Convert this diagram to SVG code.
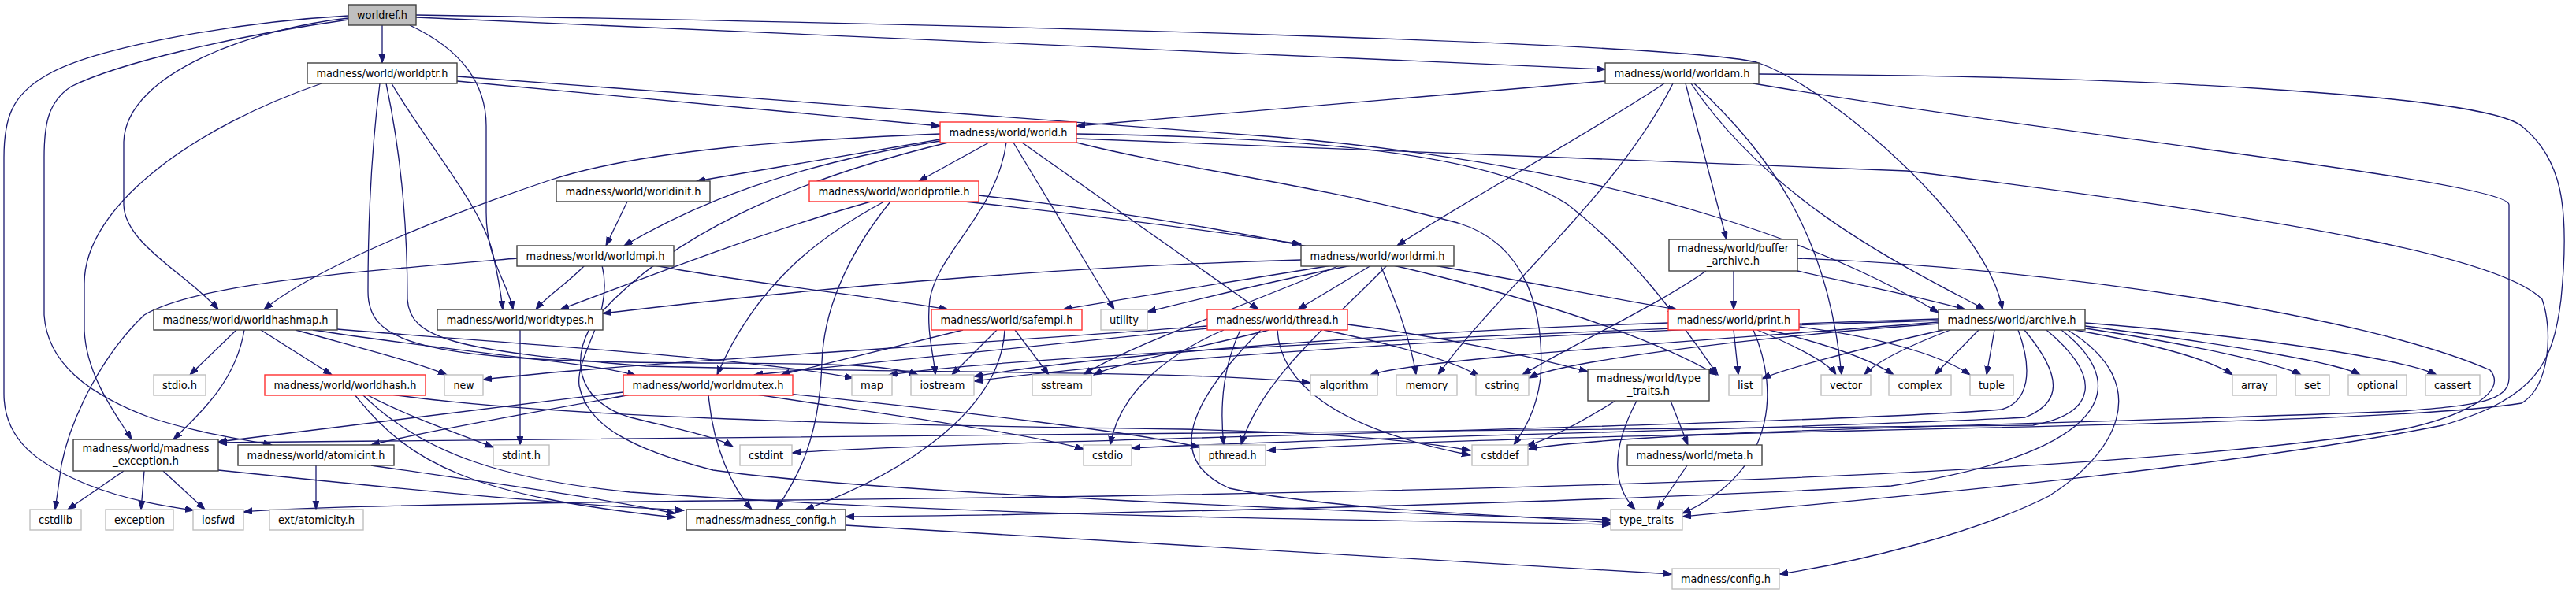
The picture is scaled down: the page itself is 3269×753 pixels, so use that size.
<svg xmlns="http://www.w3.org/2000/svg" width="3269" height="753" viewBox="0 0 3269 753">
<style>
.n rect{fill:#fff;stroke:#404040;stroke-width:1.4}
.n.red rect{stroke:#ff3030}
.n.ext rect{stroke:#bfbfbf}
.n.root rect{fill:#bfbfbf;stroke:#404040}
.n text{font-family:"DejaVu Sans Condensed","DejaVu Sans",sans-serif;font-size:14px;fill:#000;text-anchor:middle}
#edges path{fill:none;stroke:#191970;stroke-width:1.3;marker-end:url(#a)}
</style>
<defs>
<marker id="a" markerUnits="userSpaceOnUse" markerWidth="12" markerHeight="9" refX="11" refY="4" orient="auto"><path d="M0,0 L11,4 L0,8 z" fill="#191970" stroke="#191970" stroke-width="1"/></marker>
</defs>
<rect width="3269" height="753" fill="#fff"/>
<g id="edges">
<path d="M485,32 L485,80"/>
<path d="M528,22 L2037,88"/>
<path d="M528,19 C1300,32 2150,55 2232,80 C2330,115 2525,290 2541,393"/>
<path d="M442,23 C330,35 160,90 157,180 L157,260 C158,310 240,350 277,393"/>
<path d="M442,25 C300,45 150,80 90,110 C60,130 56,160 56,200 L56,400 C60,460 110,500 190,530 C250,550 310,558 345,565"/>
<path d="M442,20 C300,28 120,60 60,95 C15,120 5,150 5,200 L5,500 C5,560 50,590 110,615 C160,635 210,643 246,648"/>
<path d="M520,32 C590,65 617,110 617,160 L617,270 C617,330 645,360 651,393"/>
<path d="M580,103 L1193,160"/>
<path d="M408,106 C250,160 107,260 107,360 L107,420 C110,480 150,530 167,558"/>
<path d="M497,106 C540,180 610,260 625,320 C632,350 636,375 638,393"/>
<path d="M482,106 C470,200 467,300 467,370 C467,430 520,455 800,460 C1000,463 1110,458 1165,476"/>
<path d="M490,106 C510,200 517,300 517,380 C520,430 575,445 820,465 C1200,475 1500,470 1663,486"/>
<path d="M580,97 L1620,174 C2100,215 2350,330 2460,397"/>
<path d="M2037,103 L1366,160"/>
<path d="M2112,106 C2000,180 1850,260 1773,312"/>
<path d="M2139,106 L2191,304"/>
<path d="M2146,106 C2250,260 2420,340 2519,393"/>
<path d="M2123,106 C2050,250 1900,370 1825,476"/>
<path d="M2150,106 C2250,200 2320,300 2337,476"/>
<path d="M2232,94 C2700,96 3150,120 3200,160 C3250,200 3262,260 3250,380 C3240,460 3220,505 3100,540 C2800,600 2300,640 2135,656"/>
<path d="M2225,106 C2600,170 3184,230 3184,260 L3184,480 C3184,510 3140,515 3050,522 C2600,540 2100,545 1940,570"/>
<path d="M1193,177 L884,230"/>
<path d="M1255,181 L1166,230"/>
<path d="M1193,179 C1000,210 880,260 792,312"/>
<path d="M1193,170 C1000,178 820,190 700,228 C560,275 400,340 335,393"/>
<path d="M1277,181 C1265,270 1190,320 1180,380 C1175,420 1185,450 1187,476"/>
<path d="M1286,181 L1414,393"/>
<path d="M1297,181 L1597,393"/>
<path d="M1203,181 C1000,230 850,300 760,400 C720,450 730,510 800,530 C860,545 910,555 930,567"/>
<path d="M1366,170 C1700,175 1900,200 1990,260 C2080,330 2140,420 2180,476"/>
<path d="M1366,181 C1500,215 1650,230 1850,283 C1940,310 1960,400 1955,480 C1950,520 1935,545 1921,565"/>
<path d="M1366,176 L2420,217 C2950,283 3176,330 3226,380 C3240,420 3236,490 3200,512 C3000,545 2000,545 1608,572"/>
<path d="M796,256 L769,312"/>
<path d="M1224,256 C1400,275 1550,295 1651,310"/>
<path d="M1105,256 C950,300 800,360 711,393"/>
<path d="M1122,256 C1040,300 960,360 910,476"/>
<path d="M1130,256 C1070,330 1045,400 1043,460 C1040,560 1010,610 985,647"/>
<path d="M1242,248 C1700,300 2050,400 2178,476"/>
<path d="M742,337 C720,360 695,375 680,393"/>
<path d="M831,337 C950,360 1100,375 1203,393"/>
<path d="M656,328 C450,345 250,360 183,400 C130,450 90,530 78,590 L70,647"/>
<path d="M764,337 C780,400 730,450 735,490 C745,540 800,570 905,597 C1100,625 1700,650 2044,660"/>
<path d="M1651,330 C1300,340 1000,370 765,398"/>
<path d="M1690,337 C1550,360 1420,380 1349,393"/>
<path d="M1715,337 C1600,360 1500,385 1456,396"/>
<path d="M1740,337 L1647,393"/>
<path d="M1752,337 C1770,380 1790,430 1797,476"/>
<path d="M1700,337 C1550,400 1430,440 1375,476"/>
<path d="M1820,337 C1950,360 2050,380 2128,393"/>
<path d="M1760,337 C1700,400 1600,480 1575,565"/>
<path d="M1222,419 L991,476"/>
<path d="M1265,419 L1208,476"/>
<path d="M1288,419 L1331,476"/>
<path d="M1275,419 C1270,520 1150,600 1022,647"/>
<path d="M1532,417 C1300,440 1100,460 957,476"/>
<path d="M1610,419 C1530,440 1420,460 1388,476"/>
<path d="M1553,419 C1480,450 1420,500 1409,565"/>
<path d="M1574,419 C1550,470 1548,520 1553,565"/>
<path d="M1600,419 C1520,500 1470,580 1560,620 C1700,650 1950,655 2044,664"/>
<path d="M1621,419 C1625,490 1700,545 1866,578"/>
<path d="M1680,419 C1780,440 1850,460 1877,478"/>
<path d="M1710,412 C1850,430 1950,455 2015,472"/>
<path d="M1532,414 C1200,440 800,460 613,482"/>
<path d="M300,419 L241,476"/>
<path d="M331,419 L421,476"/>
<path d="M310,419 C300,480 260,520 220,558"/>
<path d="M375,419 C450,440 530,460 567,476"/>
<path d="M397,419 C600,450 750,460 807,477"/>
<path d="M428,418 C700,440 950,455 1083,480"/>
<path d="M660,419 L660,565"/>
<path d="M465,501 C520,530 580,550 626,568"/>
<path d="M450,501 C520,590 600,630 857,657"/>
<path d="M460,501 C540,580 650,610 800,625 C1300,660 1800,660 2044,666"/>
<path d="M497,501 C700,530 1100,540 1500,545 C1700,550 1800,560 1866,572"/>
<path d="M791,498 C600,520 400,545 277,561"/>
<path d="M800,501 C700,520 550,545 471,565"/>
<path d="M899,501 C905,570 930,620 954,647"/>
<path d="M960,501 C1150,530 1300,550 1375,570"/>
<path d="M1000,500 C1200,520 1450,550 1522,568"/>
<path d="M401,591 L401,647"/>
<path d="M471,591 C600,610 750,630 857,652"/>
<path d="M157,598 L86,647"/>
<path d="M183,598 L179,647"/>
<path d="M207,598 L260,647"/>
<path d="M277,597 C500,620 700,640 868,648"/>
<path d="M2200,344 L2200,393"/>
<path d="M2281,344 C2350,360 2430,375 2494,393"/>
<path d="M2165,344 C2100,390 1990,440 1932,476"/>
<path d="M2281,328 C2600,340 3000,400 3160,470 C3185,500 3120,530 3050,545 C2700,600 2000,625 1000,635 C700,638 400,642 309,650"/>
<path d="M2200,419 L2206,476"/>
<path d="M2230,419 C2280,440 2320,460 2330,476"/>
<path d="M2245,419 C2330,440 2380,460 2403,476"/>
<path d="M2225,419 C2260,500 2250,600 2135,652"/>
<path d="M2117,410 C1800,420 1400,450 1236,478"/>
<path d="M2283,415 C2400,430 2470,455 2500,476"/>
<path d="M2050,509 C2000,540 1960,560 1937,566"/>
<path d="M2120,509 L2142,565"/>
<path d="M2077,509 C2050,560 2040,610 2075,647"/>
<path d="M2141,591 L2103,647"/>
<path d="M1073,667 C1500,690 1900,715 2122,729"/>
<path d="M2511,419 L2455,476"/>
<path d="M2531,419 L2521,476"/>
<path d="M2633,419 C2750,440 2810,460 2833,476"/>
<path d="M2640,416 C2800,440 2900,465 2920,476"/>
<path d="M2646,414 C2850,440 2970,462 2995,476"/>
<path d="M2646,410 C2900,430 3060,460 3092,476"/>
<path d="M2475,419 C2420,440 2380,460 2366,476"/>
<path d="M2466,419 C2350,445 2260,470 2236,481"/>
<path d="M2460,411 C2200,430 1980,460 1940,480"/>
<path d="M2460,407 C2000,420 1500,450 1236,484"/>
<path d="M2460,405 C2000,420 1300,450 1128,476"/>
<path d="M2460,409 C2200,430 1800,455 1739,476"/>
<path d="M2561,419 C2580,470 2575,510 2540,520 C2300,540 1200,560 1005,575"/>
<path d="M2569,419 C2620,480 2615,512 2570,530 C2300,545 1700,555 1436,569"/>
<path d="M2597,419 C2670,480 2660,525 2580,540 C2000,550 1000,552 277,562"/>
<path d="M2616,419 C2720,500 2650,580 2400,617 C2000,640 1300,655 1073,656"/>
<path d="M2624,419 C2740,490 2680,580 2600,630 C2500,680 2350,715 2258,729"/>
</g>
<g id="n_worldref" class="n root"><rect x="442" y="6" width="86" height="26"/><text x="485" y="24" textLength="64" lengthAdjust="spacingAndGlyphs">worldref.h</text></g>
<g id="n_worldptr" class="n"><rect x="390" y="80" width="190" height="26"/><text x="485" y="98" textLength="167" lengthAdjust="spacingAndGlyphs">madness/world/worldptr.h</text></g>
<g id="n_worldam" class="n"><rect x="2037" y="80" width="195" height="26"/><text x="2134.5" y="98" textLength="172" lengthAdjust="spacingAndGlyphs">madness/world/worldam.h</text></g>
<g id="n_world" class="n red"><rect x="1193" y="155" width="173" height="26"/><text x="1279.5" y="173" textLength="150" lengthAdjust="spacingAndGlyphs">madness/world/world.h</text></g>
<g id="n_worldinit" class="n"><rect x="706" y="230" width="195" height="26"/><text x="803.5" y="248" textLength="172" lengthAdjust="spacingAndGlyphs">madness/world/worldinit.h</text></g>
<g id="n_worldprofile" class="n red"><rect x="1027" y="230" width="215" height="26"/><text x="1134.5" y="248" textLength="192" lengthAdjust="spacingAndGlyphs">madness/world/worldprofile.h</text></g>
<g id="n_worldmpi" class="n"><rect x="656" y="312" width="199" height="26"/><text x="755.5" y="330" textLength="176" lengthAdjust="spacingAndGlyphs">madness/world/worldmpi.h</text></g>
<g id="n_worldrmi" class="n"><rect x="1651" y="312" width="194" height="26"/><text x="1748" y="330" textLength="171" lengthAdjust="spacingAndGlyphs">madness/world/worldrmi.h</text></g>
<g id="n_buffer_archive" class="n"><rect x="2118" y="304" width="163" height="40"/><text x="2199.5" y="320" textLength="141" lengthAdjust="spacingAndGlyphs">madness/world/buffer</text><text x="2199.5" y="336" textLength="67" lengthAdjust="spacingAndGlyphs">_archive.h</text></g>
<g id="n_worldhashmap" class="n"><rect x="195" y="393" width="233" height="26"/><text x="311.5" y="411" textLength="210" lengthAdjust="spacingAndGlyphs">madness/world/worldhashmap.h</text></g>
<g id="n_worldtypes" class="n"><rect x="555" y="393" width="210" height="26"/><text x="660" y="411" textLength="187" lengthAdjust="spacingAndGlyphs">madness/world/worldtypes.h</text></g>
<g id="n_safempi" class="n red"><rect x="1182" y="393" width="191" height="26"/><text x="1277.5" y="411" textLength="168" lengthAdjust="spacingAndGlyphs">madness/world/safempi.h</text></g>
<g id="n_utility" class="n ext"><rect x="1397" y="393" width="59" height="26"/><text x="1426.5" y="411" textLength="37" lengthAdjust="spacingAndGlyphs">utility</text></g>
<g id="n_thread" class="n red"><rect x="1532" y="393" width="178" height="26"/><text x="1621" y="411" textLength="155" lengthAdjust="spacingAndGlyphs">madness/world/thread.h</text></g>
<g id="n_print" class="n red"><rect x="2117" y="393" width="166" height="26"/><text x="2200" y="411" textLength="144" lengthAdjust="spacingAndGlyphs">madness/world/print.h</text></g>
<g id="n_archive" class="n"><rect x="2460" y="393" width="186" height="26"/><text x="2553" y="411" textLength="163" lengthAdjust="spacingAndGlyphs">madness/world/archive.h</text></g>
<g id="n_stdio" class="n ext"><rect x="195" y="476" width="66" height="26"/><text x="228" y="494" textLength="44" lengthAdjust="spacingAndGlyphs">stdio.h</text></g>
<g id="n_worldhash" class="n red"><rect x="336" y="476" width="204" height="26"/><text x="438" y="494" textLength="181" lengthAdjust="spacingAndGlyphs">madness/world/worldhash.h</text></g>
<g id="n_new" class="n ext"><rect x="564" y="476" width="49" height="26"/><text x="588.5" y="494" textLength="26" lengthAdjust="spacingAndGlyphs">new</text></g>
<g id="n_worldmutex" class="n red"><rect x="791" y="476" width="215" height="26"/><text x="898.5" y="494" textLength="192" lengthAdjust="spacingAndGlyphs">madness/world/worldmutex.h</text></g>
<g id="n_map" class="n ext"><rect x="1081" y="476" width="51" height="26"/><text x="1106.5" y="494" textLength="29" lengthAdjust="spacingAndGlyphs">map</text></g>
<g id="n_iostream" class="n ext"><rect x="1156" y="476" width="80" height="26"/><text x="1196" y="494" textLength="57" lengthAdjust="spacingAndGlyphs">iostream</text></g>
<g id="n_sstream" class="n ext"><rect x="1310" y="476" width="75" height="26"/><text x="1347.5" y="494" textLength="53" lengthAdjust="spacingAndGlyphs">sstream</text></g>
<g id="n_algorithm" class="n ext"><rect x="1663" y="476" width="85" height="26"/><text x="1705.5" y="494" textLength="62" lengthAdjust="spacingAndGlyphs">algorithm</text></g>
<g id="n_memory" class="n ext"><rect x="1772" y="476" width="77" height="26"/><text x="1810.5" y="494" textLength="54" lengthAdjust="spacingAndGlyphs">memory</text></g>
<g id="n_cstring" class="n ext"><rect x="1873" y="476" width="67" height="26"/><text x="1906.5" y="494" textLength="44" lengthAdjust="spacingAndGlyphs">cstring</text></g>
<g id="n_type_traits_h" class="n"><rect x="2015" y="469" width="154" height="40"/><text x="2092" y="485" textLength="132" lengthAdjust="spacingAndGlyphs">madness/world/type</text><text x="2092" y="501" textLength="54" lengthAdjust="spacingAndGlyphs">_traits.h</text></g>
<g id="n_list" class="n ext"><rect x="2194" y="476" width="42" height="26"/><text x="2215" y="494" textLength="20" lengthAdjust="spacingAndGlyphs">list</text></g>
<g id="n_vector" class="n ext"><rect x="2311" y="476" width="63" height="26"/><text x="2342.5" y="494" textLength="41" lengthAdjust="spacingAndGlyphs">vector</text></g>
<g id="n_complex" class="n ext"><rect x="2397" y="476" width="79" height="26"/><text x="2436.5" y="494" textLength="56" lengthAdjust="spacingAndGlyphs">complex</text></g>
<g id="n_tuple" class="n ext"><rect x="2500" y="476" width="55" height="26"/><text x="2527.5" y="494" textLength="33" lengthAdjust="spacingAndGlyphs">tuple</text></g>
<g id="n_array" class="n ext"><rect x="2833" y="476" width="56" height="26"/><text x="2861" y="494" textLength="34" lengthAdjust="spacingAndGlyphs">array</text></g>
<g id="n_set" class="n ext"><rect x="2913" y="476" width="43" height="26"/><text x="2934.5" y="494" textLength="21" lengthAdjust="spacingAndGlyphs">set</text></g>
<g id="n_optional" class="n ext"><rect x="2980" y="476" width="74" height="26"/><text x="3017" y="494" textLength="52" lengthAdjust="spacingAndGlyphs">optional</text></g>
<g id="n_cassert" class="n ext"><rect x="3078" y="476" width="69" height="26"/><text x="3112.5" y="494" textLength="47" lengthAdjust="spacingAndGlyphs">cassert</text></g>
<g id="n_madness_exception" class="n"><rect x="93" y="558" width="184" height="40"/><text x="185" y="574" textLength="161" lengthAdjust="spacingAndGlyphs">madness/world/madness</text><text x="185" y="590" textLength="84" lengthAdjust="spacingAndGlyphs">_exception.h</text></g>
<g id="n_atomicint" class="n"><rect x="302" y="565" width="198" height="26"/><text x="401" y="583" textLength="175" lengthAdjust="spacingAndGlyphs">madness/world/atomicint.h</text></g>
<g id="n_stdint" class="n ext"><rect x="626" y="565" width="71" height="26"/><text x="661.5" y="583" textLength="49" lengthAdjust="spacingAndGlyphs">stdint.h</text></g>
<g id="n_cstdint" class="n ext"><rect x="939" y="565" width="66" height="26"/><text x="972" y="583" textLength="44" lengthAdjust="spacingAndGlyphs">cstdint</text></g>
<g id="n_cstdio" class="n ext"><rect x="1375" y="565" width="61" height="26"/><text x="1405.5" y="583" textLength="39" lengthAdjust="spacingAndGlyphs">cstdio</text></g>
<g id="n_pthread" class="n ext"><rect x="1522" y="565" width="84" height="26"/><text x="1564" y="583" textLength="61" lengthAdjust="spacingAndGlyphs">pthread.h</text></g>
<g id="n_cstddef" class="n ext"><rect x="1868" y="565" width="71" height="26"/><text x="1903.5" y="583" textLength="48" lengthAdjust="spacingAndGlyphs">cstddef</text></g>
<g id="n_meta" class="n"><rect x="2065" y="565" width="171" height="26"/><text x="2150.5" y="583" textLength="148" lengthAdjust="spacingAndGlyphs">madness/world/meta.h</text></g>
<g id="n_cstdlib" class="n ext"><rect x="38" y="647" width="65" height="26"/><text x="70.5" y="665" textLength="43" lengthAdjust="spacingAndGlyphs">cstdlib</text></g>
<g id="n_exception" class="n ext"><rect x="134" y="647" width="86" height="26"/><text x="177" y="665" textLength="64" lengthAdjust="spacingAndGlyphs">exception</text></g>
<g id="n_iosfwd" class="n ext"><rect x="245" y="647" width="64" height="26"/><text x="277" y="665" textLength="42" lengthAdjust="spacingAndGlyphs">iosfwd</text></g>
<g id="n_atomicity" class="n ext"><rect x="342" y="647" width="119" height="26"/><text x="401.5" y="665" textLength="97" lengthAdjust="spacingAndGlyphs">ext/atomicity.h</text></g>
<g id="n_madness_config" class="n"><rect x="871" y="647" width="202" height="26"/><text x="972" y="665" textLength="179" lengthAdjust="spacingAndGlyphs">madness/madness_config.h</text></g>
<g id="n_type_traits" class="n ext"><rect x="2044" y="647" width="91" height="26"/><text x="2089.5" y="665" textLength="69" lengthAdjust="spacingAndGlyphs">type_traits</text></g>
<g id="n_config" class="n ext"><rect x="2122" y="722" width="136" height="26"/><text x="2190" y="740" textLength="114" lengthAdjust="spacingAndGlyphs">madness/config.h</text></g>
</svg>
